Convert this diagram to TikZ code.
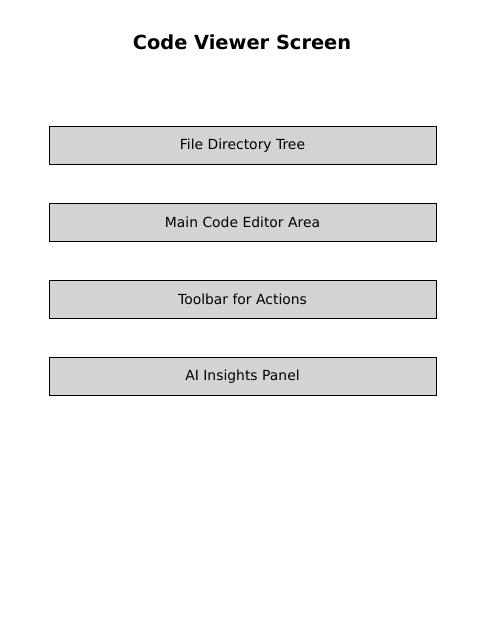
\documentclass[tikz,border=0pt]{standalone}
\usepackage{fontspec}
\setmainfont{DejaVu Sans}
\usepackage{xcolor}
\definecolor{cvPanel}{HTML}{D3D3D3}
\definecolor{cvInk}{HTML}{000000}
\usetikzlibrary{positioning}
\begin{document}
\begin{tikzpicture}[x=1pt, y=-1pt,
    panel/.style={draw=cvInk, line width=1pt, fill=cvPanel, minimum width=387pt,
      minimum height=38pt, inner sep=0pt, font=\fontsize{13.9}{16}\selectfont},
    heading/.style={font=\fontsize{19.4}{22}\selectfont\bfseries}]
    \useasboundingbox (0,0) rectangle (484,636);
    % title
    \node[heading] (title) at (242,42) {Code Viewer Screen};
    % screen parts, top to bottom
    \node[panel] (tree) at (242.5,145.5) {File Directory Tree};
    \node[panel, below=38pt of tree] (editor) {Main Code Editor Area};
    \node[panel, below=38pt of editor] (toolbar) {Toolbar for Actions};
    \node[panel, below=38pt of toolbar] (insights) {AI Insights Panel};
  \end{tikzpicture}
\end{document}
